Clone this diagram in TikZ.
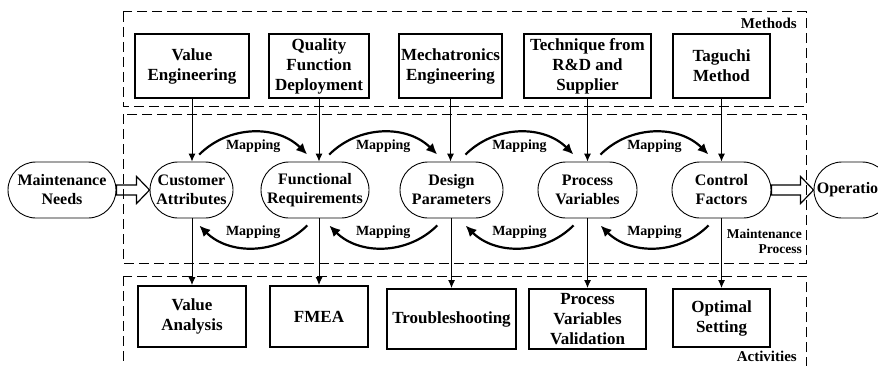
\documentclass[tikz,border=0pt]{standalone}
\usepackage{fontspec}
\setmainfont{Liberation Serif}
\usetikzlibrary{arrows.meta,calc,positioning}

\tikzset{
  method/.style={draw, line width=2pt, minimum height=64pt, align=center, inner sep=0pt,
    font=\fontsize{17}{20}\selectfont\bfseries},
  activity/.style={method, minimum height=60pt},
  stage/.style={draw, line width=0.9pt, rounded corners=28pt, minimum height=56pt,
    align=center, inner sep=0pt, font=\fontsize{16}{19}\selectfont\bfseries},
  zone/.style={draw, line width=1pt, dash pattern=on 10pt off 5pt},
  zonetag/.style={anchor=east, inner sep=0pt, align=right, font=\fontsize{15}{17}\selectfont\bfseries},
  vline/.style={line width=0.9pt, -{Latex[length=8pt,width=7pt]}},
  maparc/.style={line width=2.2pt, -{Latex[length=11pt,width=10pt]}},
  maptag/.style={inner sep=0pt, font=\fontsize{14}{16}\selectfont\bfseries},
  fatline/.style={line width=1.2pt, line join=miter}
}

% hollow block arrow from #1 to #2
\newcommand{\hollowarrow}[2]{%
  \draw[fatline] ([yshift=5pt]#1.east) -- ([xshift=-13pt,yshift=5pt]#2.west)
    -- ([xshift=-13pt,yshift=13.5pt]#2.west) -- (#2.west)
    -- ([xshift=-13pt,yshift=-13.5pt]#2.west) -- ([xshift=-13pt,yshift=-5pt]#2.west)
    -- ([yshift=-5pt]#1.east) -- cycle;}

\begin{document}
\begin{tikzpicture}[x=1pt, y=1pt]
  \useasboundingbox (0,0) rectangle (878,365);
  \clip (0,0) rectangle (878,365);

  % methods
  \node[method, minimum width=114pt] (ve) at (192,299) {Value\\Engineering};
  \node[method, minimum width=100pt] (qfd) at (319,299) {Quality\\Function\\Deployment};
  \node[method, minimum width=103pt] (me) at (450.5,299) {Mechatronics\\Engineering};
  \node[method, minimum width=127pt] (tech) at (587.5,299) {Technique from\\R\&D and\\Supplier};
  \node[method, minimum width=97pt] (tag) at (721.5,299) {Taguchi\\Method};

  % maintenance process
  \node[stage, minimum width=108pt] (mn) at (62,175) {Maintenance\\Needs};
  \node[stage, minimum width=83pt] (ca) at (191.5,175) {Customer\\Attributes};
  \node[stage, minimum width=108pt] (fr) at (315,175) {Functional\\Requirements};
  \node[stage, minimum width=103pt] (dp) at (451.5,175) {Design\\Parameters};
  \node[stage, minimum width=99pt] (pv) at (587.5,175) {Process\\Variables};
  \node[stage, minimum width=99pt] (cf) at (721.5,175) {Control\\Factors};
  \node[stage, minimum width=76pt] (op) at (852,175) {Operation};

  % activities
  \node[activity, minimum width=108pt, minimum height=61pt] (va) at (192,48.5) {Value\\Analysis};
  \node[activity, minimum width=98pt, minimum height=61pt] (fmea) at (319,48.5) {FMEA};
  \node[activity, minimum width=129pt] (ts) at (451.5,46) {Troubleshooting};
  \node[activity, minimum width=117pt] (pvv) at (587.5,46) {Process\\Variables\\Validation};
  \node[activity, minimum width=97pt, minimum height=58pt] (os) at (721.5,47) {Optimal\\Setting};

  % vertical links
  \foreach \m/\p/\q in {ve/ca/va, qfd/fr/fmea, me/dp/ts, tech/pv/pvv, tag/cf/os}{
    \draw[vline] (\m.south) -- (\m.south |- \p.north);
    \draw[vline] (\q.north |- \p.south) -- (\q.north);
  }

  % mapping arcs
  \foreach \a/\b in {ca/fr, fr/dp, dp/pv, pv/cf}{
    \coordinate (top-\a) at ($(\a.north)!0.5!(\b.north)$);
    \coordinate (bot-\a) at ($(\a.south)!0.5!(\b.south)$);
    \draw[maparc] ([shift={(-54,7)}]top-\a) to[bend left=45] ([shift={(54,7)}]top-\a);
    \draw[maparc] ([shift={(54,-7)}]bot-\a) to[bend left=45] ([shift={(-54,-7)}]bot-\a);
    \node[maptag] (up-\a) at ([yshift=15pt]top-\a) {Mapping};
    \node[maptag] (dn-\a) at ([yshift=-14pt]bot-\a) {Mapping};
  }

  % block arrows
  \hollowarrow{mn}{ca}
  \hollowarrow{cf}{op}

  % zones
  \draw[zone] (123,353) rectangle (806,259);
  \draw[zone] (123,251) rectangle (806,102);
  \draw[zone] (123,89) rectangle (806,-20);
  \node[zonetag] (methods) at (797,342) {Methods};
  \node[zonetag, font=\fontsize{13.5}{15}\selectfont\bfseries] (process) at (802,124) {Maintenance\\Process};
  \node[zonetag] (activities) at (797,9) {Activities};
\end{tikzpicture}
\end{document}
